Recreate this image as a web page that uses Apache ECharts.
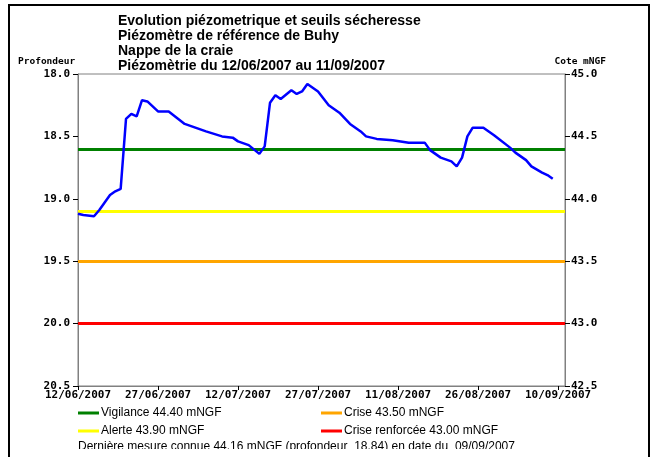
<!DOCTYPE html>
<html>
<head>
<meta charset="utf-8">
<script src="https://cdn.jsdelivr.net/npm/echarts@6/dist/echarts.min.js"></script>
<style>
html,body{margin:0;padding:0;background:#fff;}
#chart{width:653px;height:457px;}
</style>
</head>
<body>
<div id="chart"></div>
<script>
// mesures piezometriques (profondeur en m)
var dates = ['2007-06-12','2007-06-13','2007-06-15','2007-06-16','2007-06-17','2007-06-18','2007-06-19','2007-06-20',
	'2007-06-21','2007-06-22','2007-06-23','2007-06-24','2007-06-25','2007-06-27','2007-06-29','2007-07-02',
	'2007-07-06','2007-07-09','2007-07-11','2007-07-12','2007-07-14','2007-07-16','2007-07-17','2007-07-18',
	'2007-07-19','2007-07-20','2007-07-22','2007-07-23','2007-07-24','2007-07-25','2007-07-27','2007-07-29',
	'2007-07-31','2007-08-02','2007-08-04','2007-08-05','2007-08-07','2007-08-10','2007-08-13','2007-08-16',
	'2007-08-17','2007-08-19','2007-08-21','2007-08-22','2007-08-23','2007-08-24','2007-08-25','2007-08-27',
	'2007-08-29','2007-09-01','2007-09-02','2007-09-04','2007-09-05','2007-09-07','2007-09-08','2007-09-09'];
var profondeur = [19.12,19.13,19.14,19.09,19.03,18.97,18.94,18.92,
	18.36,18.32,18.34,18.21,18.22,18.30,18.30,18.40,
	18.46,18.50,18.51,18.54,18.57,18.64,18.58,18.23,
	18.17,18.20,18.13,18.16,18.14,18.08,18.14,18.25,
	18.31,18.40,18.46,18.50,18.52,18.53,18.55,18.55,
	18.61,18.67,18.70,18.74,18.67,18.50,18.43,18.43,
	18.49,18.59,18.63,18.69,18.74,18.79,18.81,18.84];

// seuils secheresse (cote mNGF)
var seuilNoms = ['Vigilance 44.40 mNGF','Alerte 43.90 mNGF','Crise 43.50 mNGF','Crise renforcée 43.00 mNGF'];
var seuilCotes = [44.40,43.90,43.50,43.00];
var seuilCouleurs = ['#008000','#ffff00','#ffa500','#ff0000'];

var debut = '2007-06-12';
var xTickDays = 15;
var COTE_REF = 63.0; // cote = 63.0 - profondeur

function jour(s){
	var a = s.split('-'), b = debut.split('-');
	return (Date.UTC(+a[0],a[1]-1,+a[2]) - Date.UTC(+b[0],b[1]-1,+b[2]))/86400000;
}
function fmtJour(v){
	var b = debut.split('-');
	var d = new Date(Date.UTC(+b[0],b[1]-1,+b[2]) + Math.round(v)*86400000);
	var dd = ('0'+d.getUTCDate()).slice(-2), mm = ('0'+(d.getUTCMonth()+1)).slice(-2);
	return dd+'/'+mm+'/'+d.getUTCFullYear();
}

var data = [];
for(var i=0;i<dates.length;i++){
	data.push([jour(dates[i]), profondeur[i]]);
}

var mono = '"DejaVu Sans Mono", monospace';
var sans = '"Liberation Sans", Arial, sans-serif';
var gris = '#808080';

var series = [{
	name:'Piezometrie',
	type:'line',
	data:data,
	symbol:'none',
	z:5,
	lineStyle:{color:'#0000ff',width:2.5},
	itemStyle:{color:'#0000ff'}
}];
var legends = [];
var legendPos = [[78,407],[78,425],[321,407],[321,425]];
for(var i=0;i<seuilNoms.length;i++){
	series.push({
		name:seuilNoms[i],
		type:'line',
		data:[],
		itemStyle:{color:seuilCouleurs[i]},
		lineStyle:{color:seuilCouleurs[i]},
		markLine:{
			silent:true,
			symbol:'none',
			label:{show:false},
			lineStyle:{color:seuilCouleurs[i],width:3,type:'solid'},
			data:[{yAxis:COTE_REF - seuilCotes[i]}]
		}
	});
	legends.push({
		data:[seuilNoms[i]],
		left:legendPos[i][0],
		top:legendPos[i][1],
		icon:'rect',
		itemWidth:21,
		itemHeight:3,
		itemGap:0,
		selectedMode:false,
		padding:0,
		textStyle:{fontFamily:sans,fontSize:12,color:'#000',padding:[0,0,0,-3]}
	});
}

var chart = echarts.init(document.getElementById('chart'));
chart.setOption({
	animation:false,
	title:{
		text:'Evolution piézometrique et seuils sécheresse\nPiézomètre de référence de Buhy\nNappe de la craie\nPiézomètrie du 12/06/2007 au 11/09/2007',
		left:118,
		top:14,
		padding:0,
		textStyle:{fontFamily:sans,fontSize:14,fontWeight:'bold',color:'#000',lineHeight:15}
	},
	legend:legends,
	grid:{left:78,right:88,top:74,bottom:71,show:true,borderColor:gris,borderWidth:1},
	xAxis:{
		type:'value',
		min:0,
		max:91.3,
		interval:xTickDays,
		axisLine:{lineStyle:{color:gris}},
		axisTick:{lineStyle:{color:'#000'},length:4},
		splitLine:{show:false},
		axisLabel:{showMaxLabel:false,margin:4,fontFamily:mono,fontSize:11,fontWeight:'bold',color:'#000',formatter:fmtJour}
	},
	yAxis:[{
		type:'value',
		inverse:true,
		min:18,
		max:20.5,
		interval:0.5,
		axisLine:{show:true,lineStyle:{color:gris}},
		axisTick:{show:true,lineStyle:{color:'#000'},length:5},
		splitLine:{show:false},
		axisLabel:{margin:8,fontFamily:mono,fontSize:11,fontWeight:'bold',color:'#000',formatter:function(v){return v.toFixed(1);}}
	},{
		type:'value',
		min:42.5,
		max:45,
		interval:0.5,
		position:'right',
		axisLine:{show:true,lineStyle:{color:gris}},
		axisTick:{show:true,lineStyle:{color:'#000'},length:5},
		splitLine:{show:false},
		axisLabel:{margin:6,fontFamily:mono,fontSize:11,fontWeight:'bold',color:'#000',formatter:function(v){return v.toFixed(1);}}
	}],
	graphic:[
		{type:'text',left:18,top:57,style:{text:'Profondeur',font:'bold 9.5px '+mono,fill:'#000'}},
		{type:'text',right:47,top:57,style:{text:'Cote mNGF',font:'bold 9.5px '+mono,fill:'#000'}},
		{type:'text',left:78,top:441,style:{text:'Dernière mesure connue 44.16 mNGF (profondeur  18.84) en date du  09/09/2007',font:'12px '+sans,fill:'#000'}},
		// zone visible coupee sous la derniere ligne de texte
		{type:'rect',shape:{x:10,y:449,width:638,height:10},style:{fill:'#fff'},silent:true,z:100},
		{type:'rect',shape:{x:9,y:5,width:640,height:480},style:{fill:null,stroke:'#000',lineWidth:2},silent:true,z:101}
	],
	series:series
});
</script>
</body>
</html>
